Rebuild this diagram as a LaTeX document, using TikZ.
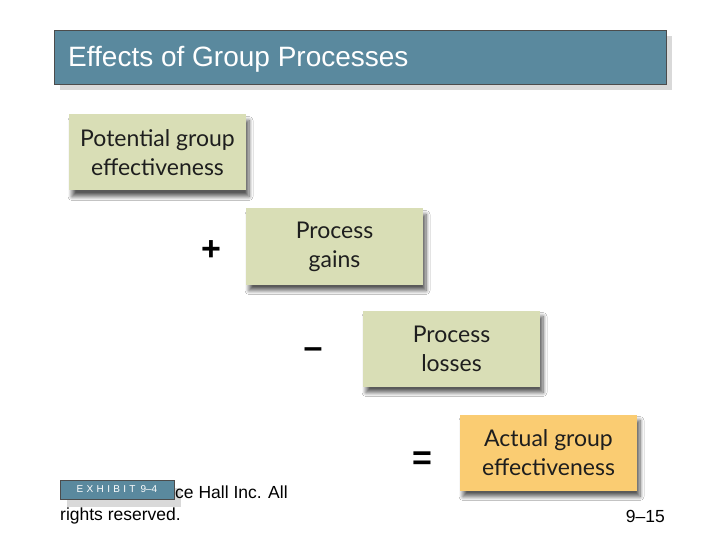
\documentclass[tikz,border=0pt]{standalone}
\usepackage{fontspec}
\setmainfont{Liberation Sans}
\newfontfamily\boxfont{Lato}
\usetikzlibrary{shadows.blur}
\definecolor{titleblue}{RGB}{90,137,158}
\definecolor{boxgreen}{RGB}{217,222,182}
\definecolor{boxorange}{RGB}{250,204,114}
\definecolor{boxtext}{RGB}{30,30,30}
\tikzset{
  procbox/.style={minimum width=177pt, minimum height=76pt, inner sep=0pt, align=center,
    font=\boxfont\fontsize{23}{29}\selectfont, text=boxtext,
    blur shadow={shadow xshift=3pt, shadow yshift=-6pt, shadow blur radius=4pt, shadow blur steps=8, shadow opacity=65}},
  opsign/.style={font=\bfseries\fontsize{34}{34}\selectfont, inner sep=0pt},
  footer/.style={font=\fontsize{17.5}{20}\selectfont, inner sep=0pt}
}
\begin{document}
\begin{tikzpicture}[x=1pt,y=-1pt]
\useasboundingbox[fill=white] (0,0) rectangle (720,540);
% title bar
\fill[gray!30] (60,36) rectangle (672,90);
\draw[fill=titleblue, draw=black!70, line width=0.6pt] (54,30) rectangle (666,84);
\node[anchor=base west, text=white, inner sep=0pt, font=\fontsize{28}{30}\selectfont] (title) at (68,67) {Effects of Group Processes};
% page number
\node[footer, anchor=base east] (pagenum) at (665,522) {9–15};
% boxes
\node[procbox, fill=boxgreen] (potential) at (157.5,152.5) {Potential group\\effectiveness};
\node[procbox, fill=boxgreen] (gains) at (334.5,246.5) {Process\\gains};
\node[procbox, fill=boxgreen] (losses) at (451.5,348.5) {Process\\losses};
\node[procbox, fill=boxorange] (actual) at (548.5,452.5) {Actual group\\effectiveness};
% signs
\node[opsign] (plus) at (211,251) {+};
\node[opsign] (minus) at (313,353) {–};
\node[opsign] (equals) at (422,461) {=};
% exhibit tag
\fill[gray!30] (67,488) rectangle (181,507);
\draw[fill=titleblue, draw=black!70, line width=0.5pt] (60,480) rectangle (174,499);
\node[text=white, inner sep=0pt, font=\fontsize{10}{10}\selectfont] (exhibit) at (117,489.5) {E\,\,X\,\,H\,\,I\,\,B\,\,I\,\,T\,\,\,9–4};
% footer
\node[footer, anchor=base west] (copy1) at (175,498) {ce Hall Inc. All};
\node[footer, anchor=base west] (copy2) at (60,520) {rights reserved.};
\end{tikzpicture}
\end{document}
